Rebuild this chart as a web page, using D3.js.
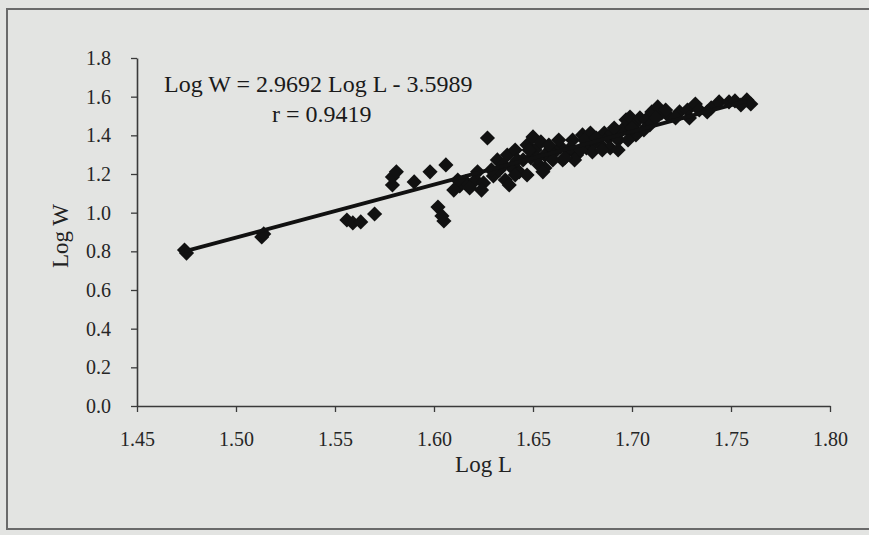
<!DOCTYPE html>
<html>
<head>
<meta charset="utf-8">
<script src="https://cdn.jsdelivr.net/npm/d3@7"></script>
<style>
  html, body { margin: 0; padding: 0; background: #e3e4e2; }
  svg { display: block; }
</style>
</head>
<body>
<div class="chart"></div>
<script>
// scanned scatter: Log W vs Log L
var logL = [1.474, 1.475, 1.513, 1.514, 1.556, 1.559, 1.563, 1.570, 1.579, 1.579,
  1.581, 1.590, 1.598, 1.602, 1.605, 1.604, 1.606, 1.613, 1.616, 1.621,
  1.625, 1.627, 1.630, 1.632, 1.633, 1.636, 1.637, 1.639, 1.641, 1.643,
  1.645, 1.647, 1.649, 1.650, 1.651, 1.653, 1.654, 1.656, 1.659, 1.661,
  1.664, 1.668, 1.670, 1.672, 1.675, 1.677, 1.679, 1.681, 1.684, 1.686,
  1.688, 1.690, 1.693, 1.695, 1.697, 1.699, 1.701, 1.704, 1.707, 1.710,
  1.713, 1.715, 1.718, 1.724, 1.728, 1.732, 1.734, 1.740, 1.744, 1.749,
  1.752, 1.758, 1.760, 1.638, 1.647, 1.656, 1.665, 1.671, 1.680, 1.689,
  1.693, 1.702, 1.709, 1.622, 1.612, 1.618,
  1.635, 1.641, 1.642, 1.648, 1.652, 1.655, 1.658, 1.660, 1.663, 1.666,
  1.669, 1.674, 1.676, 1.682, 1.685, 1.691, 1.698, 1.700, 1.706, 1.712,
  1.717, 1.722, 1.729, 1.738, 1.755, 1.629, 1.624, 1.610];
var logW = [0.807, 0.791, 0.874, 0.890, 0.962, 0.947, 0.952, 0.993, 1.143, 1.185,
  1.211, 1.159, 1.211, 1.029, 0.957, 0.983, 1.247, 1.138, 1.159, 1.169,
  1.154, 1.386, 1.190, 1.273, 1.221, 1.169, 1.298, 1.236, 1.324, 1.211,
  1.273, 1.350, 1.283, 1.392, 1.324, 1.247, 1.366, 1.298, 1.335, 1.314,
  1.340, 1.324, 1.376, 1.298, 1.402, 1.335, 1.412, 1.366, 1.350, 1.412,
  1.386, 1.412, 1.376, 1.428, 1.480, 1.495, 1.454, 1.490, 1.480, 1.521,
  1.547, 1.516, 1.505, 1.521, 1.531, 1.562, 1.531, 1.542, 1.573, 1.573,
  1.578, 1.583, 1.562, 1.143, 1.195, 1.231, 1.273, 1.273, 1.314, 1.335,
  1.324, 1.402, 1.454, 1.211, 1.169, 1.128,
  1.247, 1.195, 1.273, 1.324, 1.283, 1.211, 1.350, 1.273, 1.376, 1.283,
  1.335, 1.324, 1.376, 1.386, 1.324, 1.438, 1.376, 1.438, 1.428, 1.490,
  1.531, 1.490, 1.490, 1.521, 1.557, 1.221, 1.117, 1.117];

// fitted line as drawn in the figure
var fitL = [1.474, 1.758];
var fitW = [0.800, 1.578];

var xTicks = [1.45, 1.50, 1.55, 1.60, 1.65, 1.70, 1.75, 1.80];
var yTicks = [0.0, 0.2, 0.4, 0.6, 0.8, 1.0, 1.2, 1.4, 1.6, 1.8];

var eqText = "Log W = 2.9692 Log L - 3.5989";
var rText = "r = 0.9419";

var W = 869, H = 535;
var margin = { top: 58, right: 39, bottom: 129, left: 137 },
    width = W - margin.left - margin.right,
    height = H - margin.top - margin.bottom;

var svg = d3.select(".chart").append("svg")
    .attr("width", W)
    .attr("height", H);

svg.append("rect")
    .attr("width", W).attr("height", H)
    .attr("fill", "#e3e4e2");

// scan frame
svg.append("rect")
    .attr("x", 7).attr("y", 9)
    .attr("width", W + 20).attr("height", 520)
    .attr("fill", "none")
    .attr("stroke", "#6a6a6a")
    .attr("stroke-width", 2);

var g = svg.append("g")
    .attr("transform", "translate(" + margin.left + "," + margin.top + ")");

var x = d3.scaleLinear().domain([1.45, 1.80]).range([0, width]);
var y = d3.scaleLinear().domain([0, 1.8]).range([height, 0]);

var font = "'Liberation Serif', 'Times New Roman', serif";

var xAxis = g.append("g")
    .attr("transform", "translate(0," + height + ")")
    .call(d3.axisBottom(x).tickValues(xTicks).tickFormat(d3.format(".2f"))
      .tickSizeInner(6).tickSizeOuter(0).tickPadding(20));
var yAxis = g.append("g")
    .call(d3.axisLeft(y).tickValues(yTicks).tickFormat(d3.format(".1f"))
      .tickSizeInner(6).tickSizeOuter(0).tickPadding(20));

[xAxis, yAxis].forEach(function(a) {
  a.attr("font-family", null).attr("font-size", null);
  a.select(".domain").attr("stroke", "#3a3a3a").attr("stroke-width", 1.6);
  a.selectAll(".tick line").attr("stroke", "#3a3a3a").attr("stroke-width", 1.3);
  a.selectAll("text")
    .style("font-family", font)
    .style("font-size", "20px")
    .attr("fill", "#262626");
});

// diamonds
var diamond = d3.symbol().type(d3.symbolSquare).size(115);
g.selectAll(".pt")
    .data(logL.map(function(d, i) { return [d, logW[i]]; }))
    .enter().append("path")
    .attr("class", "pt")
    .attr("d", diamond)
    .attr("transform", function(d) {
      return "translate(" + x(d[0]) + "," + y(d[1]) + ") rotate(45)";
    })
    .attr("fill", "#111");

// regression line
g.append("line")
    .attr("x1", x(fitL[0])).attr("y1", y(fitW[0]))
    .attr("x2", x(fitL[1])).attr("y2", y(fitW[1]))
    .attr("stroke", "#111")
    .attr("stroke-width", 3.8);

// equation
svg.append("text")
    .attr("x", 164).attr("y", 92)
    .style("font-family", font)
    .style("font-size", "24px")
    .attr("fill", "#1a1a1a")
    .text(eqText);
svg.append("text")
    .attr("x", 272).attr("y", 122)
    .style("font-family", font)
    .style("font-size", "24px")
    .attr("fill", "#1a1a1a")
    .text(rText);

// axis titles
svg.append("text")
    .attr("transform", "translate(" + (margin.left + width / 2) + "," + 472 + ")")
    .attr("text-anchor", "middle")
    .style("font-family", font)
    .style("font-size", "23px")
    .attr("fill", "#222")
    .text("Log L");
svg.append("text")
    .attr("transform", "translate(68," + 236 + ") rotate(-90)")
    .attr("text-anchor", "middle")
    .style("font-family", font)
    .style("font-size", "23px")
    .attr("fill", "#222")
    .text("Log W");
</script>
</body>
</html>
